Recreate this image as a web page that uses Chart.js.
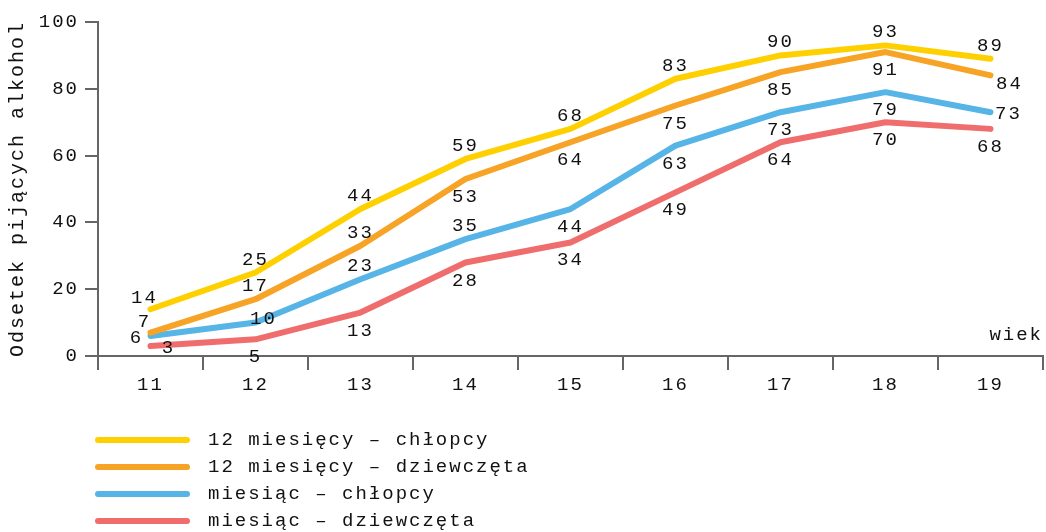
<!DOCTYPE html>
<html>
<head>
<meta charset="utf-8">
<script src="https://cdn.jsdelivr.net/npm/chart.js@4"></script>
<style>
  body { margin: 0; background: #fff; }
  #wrap { width: 1046px; height: 532px; }
</style>
</head>
<body>
<div id="wrap"><canvas id="alcoholChart" width="1046" height="532"></canvas></div>
<script>
// data
const ages = ['11', '12', '13', '14', '15', '16', '17', '18', '19'];
const boysYear = [14, 25, 44, 59, 68, 83, 90, 93, 89];
const girlsYear = [7, 17, 33, 53, 64, 75, 85, 91, 84];
const boysMonth = [6, 10, 23, 35, 44, 63, 73, 79, 73];
const girlsMonth = [3, 5, 13, 28, 34, 49, 64, 70, 68];
const yTicks = [0, 20, 40, 60, 80, 100];
const seriesNames = [
  '12 miesięcy – chłopcy',
  '12 miesięcy – dziewczęta',
  'miesiąc – chłopcy',
  'miesiąc – dziewczęta'
];

// where each value label sits relative to its point
const labelSide = [
  ['al', 'a', 'a', 'a', 'a', 'a', 'a', 'a', 'a'],
  ['al', 'a', 'a', 'b', 'b', 'b', 'b', 'b', 'rb'],
  ['l', 'o', 'a', 'a', 'b', 'b', 'b', 'b', 'r'],
  ['r', 'b', 'b', 'b', 'b', 'b', 'b', 'b', 'b']
];
const sideShift = {
  a: [0, -13], b: [0, 18], l: [-14, 2], r: [18, 2], rb: [19, 9], al: [-6, -11], o: [8, -4]
};

const colors = ['#FFD000', '#F7A325', '#56B4E6', '#EF6E6D'];
const FONT = 'Liberation Mono, Courier New, monospace';
const SPACING = '2px';
const textColor = '#111';
const axisColor = '#666';

const spacing = {
  id: 'spacing',
  beforeLayout(chart) { chart.ctx.letterSpacing = SPACING; },
  beforeDraw(chart) { chart.ctx.letterSpacing = SPACING; }
};

const valueLabels = {
  id: 'valueLabels',
  afterDatasetsDraw(chart) {
    const ctx = chart.ctx;
    ctx.save();
    ctx.letterSpacing = SPACING;
    ctx.font = '19px ' + FONT;
    ctx.fillStyle = textColor;
    ctx.textAlign = 'center';
    ctx.textBaseline = 'middle';
    chart.data.datasets.forEach((ds, i) => {
      chart.getDatasetMeta(i).data.forEach((pt, j) => {
        const s = sideShift[labelSide[i][j]];
        ctx.fillText(String(ds.data[j]), pt.x + s[0], pt.y + s[1]);
      });
    });
    ctx.restore();
  }
};

const extras = {
  id: 'extras',
  afterDraw(chart) {
    const ctx = chart.ctx;
    const area = chart.chartArea;
    ctx.save();
    ctx.letterSpacing = SPACING;
    ctx.font = '19px ' + FONT;
    ctx.fillStyle = textColor;
    ctx.textBaseline = 'middle';
    // axis name for x
    ctx.textAlign = 'right';
    ctx.fillText('wiek', area.right, area.bottom - 21);
    // legend, one entry per row
    ctx.textAlign = 'left';
    seriesNames.forEach((name, i) => {
      const y = 440 + i * 27;
      ctx.strokeStyle = colors[i];
      ctx.lineWidth = 6;
      ctx.lineCap = 'round';
      ctx.beginPath();
      ctx.moveTo(98, y);
      ctx.lineTo(187, y);
      ctx.stroke();
      ctx.fillText(name, 208, y);
    });
    ctx.restore();
  }
};

const seriesData = [boysYear, girlsYear, boysMonth, girlsMonth];

new Chart(document.getElementById('alcoholChart'), {
  type: 'line',
  data: {
    labels: ages,
    datasets: seriesData.map((values, i) => ({
      label: seriesNames[i],
      data: values,
      borderColor: colors[i],
      backgroundColor: colors[i],
      borderWidth: 6,
      borderCapStyle: 'round',
      borderJoinStyle: 'round',
      pointRadius: 0,
      tension: 0
    }))
  },
  options: {
    responsive: false,
    animation: false,
    layout: { padding: { top: 22, right: 3, bottom: 0, left: 0 } },
    plugins: {
      legend: { display: false },
      tooltip: { enabled: false }
    },
    scales: {
      x: {
        offset: true,
        grid: {
          offset: true,
          drawOnChartArea: false,
          tickLength: 14,
          color: axisColor,
          lineWidth: 2
        },
        border: { color: axisColor, width: 2 },
        ticks: {
          color: textColor,
          padding: 4,
          font: { family: FONT, size: 19 }
        },
        afterFit(scale) { scale.height = 176; }
      },
      y: {
        min: 0,
        max: 100,
        afterBuildTicks(scale) { scale.ticks = yTicks.map(v => ({ value: v })); },
        grid: {
          drawOnChartArea: false,
          tickLength: 13,
          color: axisColor,
          lineWidth: 2
        },
        border: { color: axisColor, width: 2 },
        ticks: {
          color: textColor,
          padding: 6,
          font: { family: FONT, size: 19 }
        },
        title: {
          display: true,
          text: 'Odsetek pijących alkohol',
          color: textColor,
          padding: { top: 6, bottom: 0 },
          font: { family: FONT, size: 20 }
        },
        afterFit(scale) { scale.width = 98; }
      }
    }
  },
  plugins: [spacing, valueLabels, extras]
});
</script>
</body>
</html>
